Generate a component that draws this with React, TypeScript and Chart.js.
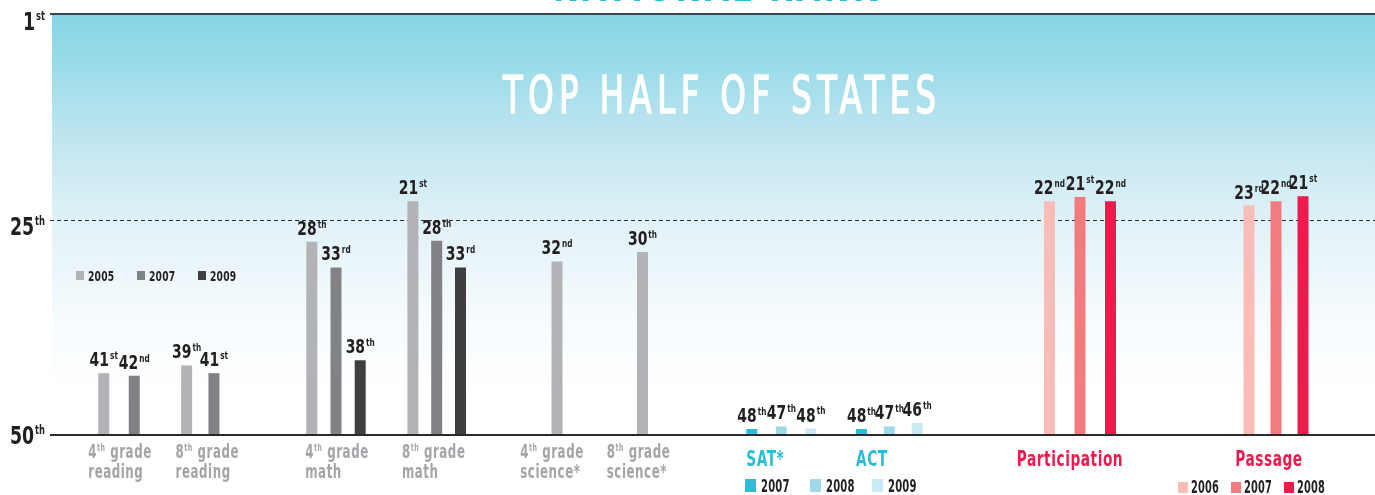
import React, { useEffect, useRef } from 'react';
import { Chart, registerables } from 'chart.js';

Chart.register(...registerables);

// ---------------- DATA ----------------
const subjects = [
  ['4|th| grade', 'reading'],
  ['8|th| grade', 'reading'],
  ['4|th| grade', 'math'],
  ['8|th| grade', 'math'],
  ['4|th| grade', 'science*'],
  ['8|th| grade', 'science*'],
  ['SAT*'],
  ['ACT'],
  ['Participation'],
  ['Passage'],
];

const yTicks = [1, 25, 50];

// NAEP (grey) series: subject indices, stated rank, bar level read on the rank axis
const naep2005Subjects = [0, 1, 2, 3, 4, 5];
const naep2005Rank = [41, 39, 28, 21, 32, 30];
const naep2005Bar = [42.8, 41.9, 27.5, 22.8, 29.8, 28.7];

const naep2007Subjects = [0, 1, 2, 3];
const naep2007Rank = [42, 41, 33, 28];
const naep2007Bar = [43.1, 42.8, 30.5, 27.4];

const naep2009Subjects = [2, 3];
const naep2009Rank = [38, 33];
const naep2009Bar = [41.3, 30.5];

// SAT / ACT (cyan)
const test2007Subjects = [6, 7];
const test2007Rank = [48, 48];
const test2007Bar = [49.3, 49.3];

const test2008Subjects = [6, 7];
const test2008Rank = [47, 47];
const test2008Bar = [49.0, 49.0];

const test2009Subjects = [6, 7];
const test2009Rank = [48, 46];
const test2009Bar = [49.25, 48.6];

// Participation / Passage (red)
const hs2006Subjects = [8, 9];
const hs2006Rank = [22, 23];
const hs2006Bar = [22.8, 23.3];

const hs2007Subjects = [8, 9];
const hs2007Rank = [21, 22];
const hs2007Bar = [22.3, 22.8];

const hs2008Subjects = [8, 9];
const hs2008Rank = [22, 21];
const hs2008Bar = [22.8, 22.2];

// ---------------- LAYOUT / STYLE ----------------
const W = 1375;
const H = 495;
const AREA = { left: 52, top: 14, right: W, bottom: 435 };
const X_MAX = AREA.right - AREA.left;
// group centre along the horizontal layout axis, and spacing between bars in a group
const groupCenter = [67, 148.3, 284, 384.7, 505, 590.5, 729.3, 837.3, 1028, 1224];
const groupSpacing = [30.5, 27.3, 24.2, 23.8, 0, 0, 29.5, 27.8, 30.5, 27];
const labelShift = [1, 7, 1, -3, -5, -4, 0, 0, -10, -7];

const FONT = '"Liberation Sans Narrow", "DejaVu Sans Condensed", "Roboto Condensed", Roboto, sans-serif';
const INK = '#231f20';
const GREY_TXT = '#a3a5a8';
const CYAN = '#2bbcd8';
const RED = '#ec1a4d';

type Series = {
  name: string;
  color: string;
  subjects: number[];
  rank: number[];
  bar: number[];
  legend: number;
};

const series: Series[] = [
  { name: '2005', color: '#b1b3b6', subjects: naep2005Subjects, rank: naep2005Rank, bar: naep2005Bar, legend: 0 },
  { name: '2007', color: '#808285', subjects: naep2007Subjects, rank: naep2007Rank, bar: naep2007Bar, legend: 0 },
  { name: '2009', color: '#3f3f41', subjects: naep2009Subjects, rank: naep2009Rank, bar: naep2009Bar, legend: 0 },
  { name: '2007', color: '#2bbcd8', subjects: test2007Subjects, rank: test2007Rank, bar: test2007Bar, legend: 1 },
  { name: '2008', color: '#a1d9e9', subjects: test2008Subjects, rank: test2008Rank, bar: test2008Bar, legend: 1 },
  { name: '2009', color: '#c9e9f3', subjects: test2009Subjects, rank: test2009Rank, bar: test2009Bar, legend: 1 },
  { name: '2006', color: '#f9bdb8', subjects: hs2006Subjects, rank: hs2006Rank, bar: hs2006Bar, legend: 2 },
  { name: '2007', color: '#f27b7e', subjects: hs2007Subjects, rank: hs2007Rank, bar: hs2007Bar, legend: 2 },
  { name: '2008', color: '#ec1a4d', subjects: hs2008Subjects, rank: hs2008Rank, bar: hs2008Bar, legend: 2 },
];

const legendLayout = [
  { xs: [76, 137, 198], top: 271, sw: 8, sh: 9, font: 14, baseline: 280.5, gap: 4, wf: 1.0 },
  { xs: [745, 810, 872], top: 479, sw: 11, sh: 13, font: 17, baseline: 492, gap: 5, wf: 0.9 },
  { xs: [1178, 1231, 1284], top: 482, sw: 10, sh: 11, font: 17, baseline: 493, gap: 3, wf: 0.88 },
];

function ordinalSuffix(n: number): string {
  const m100 = n % 100;
  if (m100 >= 11 && m100 <= 13) return 'th';
  const m = n % 10;
  if (m === 1) return 'st';
  if (m === 2) return 'nd';
  if (m === 3) return 'rd';
  return 'th';
}

function barsInGroup(g: number): number {
  return series.filter((s) => s.subjects.includes(g)).length;
}

function slotInGroup(s: Series, g: number): number {
  return series.filter((q) => q.subjects.includes(g)).indexOf(s);
}

let condense = 1;
function computeCondense(ctx: CanvasRenderingContext2D) {
  ctx.save();
  ctx.font = `bold 100px ${FONT}`;
  (ctx as any).letterSpacing = '0px';
  const w = ctx.measureText('0000000000').width;
  ctx.restore();
  const target = 10 * 100 * 0.456;
  condense = Math.min(1, target / w);
}

function setFont(ctx: CanvasRenderingContext2D, size: number, weight = 'bold', ls = 0) {
  ctx.font = `${weight} ${size}px ${FONT}`;
  (ctx as any).letterSpacing = `${ls}px`;
}

function measure(ctx: CanvasRenderingContext2D, s: string, size: number, weight = 'bold', ls = 0, wf = 1) {
  setFont(ctx, size, weight, ls);
  return ctx.measureText(s).width * condense * wf;
}

function draw(
  ctx: CanvasRenderingContext2D,
  s: string,
  x: number,
  y: number,
  size: number,
  color: string,
  weight = 'bold',
  ls = 0,
  sx = condense,
  strokeW = 0,
) {
  ctx.save();
  setFont(ctx, size, weight, ls);
  ctx.fillStyle = color;
  ctx.textAlign = 'left';
  ctx.textBaseline = 'alphabetic';
  ctx.translate(x, y);
  ctx.scale(sx, 1);
  ctx.fillText(s, 0, 0);
  if (strokeW > 0) {
    ctx.strokeStyle = color;
    ctx.lineWidth = strokeW;
    ctx.lineJoin = 'round';
    ctx.strokeText(s, 0, 0);
  }
  ctx.restore();
}

function drawOrdinal(
  ctx: CanvasRenderingContext2D,
  n: number,
  x: number,
  baseline: number,
  numSize: number,
  supSize: number,
  align: 'center' | 'right',
  wf = 1,
  color = INK,
) {
  const num = String(n);
  const suf = ordinalSuffix(n);
  const wN = measure(ctx, num, numSize, 'bold', 0, wf);
  const wS = measure(ctx, suf, supSize, 'bold', 0, wf);
  const gap = 1;
  const total = wN + gap + wS;
  const x0 = align === 'center' ? x - total / 2 : x - total;
  draw(ctx, num, x0, baseline, numSize, color, 'bold', 0, condense * wf);
  draw(ctx, suf, x0 + wN + gap, baseline - numSize * 0.74 + supSize * 0.7, supSize, color, 'bold', 0, condense * wf);
}

function drawRich(ctx: CanvasRenderingContext2D, s: string, x: number, baseline: number, size: number, supSize: number, color: string, ls: number, wf: number) {
  const parts = s.split('|');
  let cx = x;
  parts.forEach((p, i) => {
    if (!p) return;
    const isSup = i % 2 === 1;
    const sz = isSup ? supSize : size;
    const y = isSup ? baseline - size * 0.72 + supSize * 0.7 : baseline;
    draw(ctx, p, cx, y, sz, color, 'bold', ls, condense * wf);
    cx += measure(ctx, p, sz, 'bold', ls, wf);
  });
}

function richWidth(ctx: CanvasRenderingContext2D, s: string, size: number, supSize: number, ls: number, wf: number) {
  const parts = s.split('|');
  let w = 0;
  parts.forEach((p, i) => {
    if (!p) return;
    w += measure(ctx, p, i % 2 === 1 ? supSize : size, 'bold', ls, wf);
  });
  return w;
}

const decorPlugin = {
  id: 'decor',
  beforeDatasetsDraw(chart: any) {
    const ctx: CanvasRenderingContext2D = chart.ctx;
    const { left, right, top, bottom } = chart.chartArea;
    const y = chart.scales.y;
    computeCondense(ctx);
    ctx.save();
    const g = ctx.createLinearGradient(0, top, 0, bottom);
    g.addColorStop(0, '#86d5e5');
    g.addColorStop(0.12, '#9bdbe9');
    g.addColorStop(0.3, '#c0e6f0');
    g.addColorStop(0.5, '#e2f2f8');
    g.addColorStop(0.72, '#f6fbfd');
    g.addColorStop(0.9, '#ffffff');
    g.addColorStop(1, '#ffffff');
    ctx.fillStyle = g;
    ctx.fillRect(left, top, right - left, bottom - top);

    // heading inside band
    {
      const text = 'TOP HALF OF STATES';
      const size = 52;
      const ls = 8;
      setFont(ctx, size, 'normal', ls);
      const w = ctx.measureText(text).width - ls;
      const sx = 433 / w;
      draw(ctx, text, 503, 113, size, '#ffffff', 'normal', ls, sx, 1.6);
    }

    // cut-off page title at the very top
    {
      const text = 'NATIONAL RANK';
      const size = 46;
      const ls = 4;
      setFont(ctx, size, 'bold', ls);
      const w = ctx.measureText(text).width;
      const sx = 327 / w;
      draw(ctx, text, 553, 1, size, CYAN, 'bold', ls, sx);
    }

    // dashed midline (25th)
    const y25 = Math.round(y.getPixelForValue(25)) + 0.5;
    ctx.strokeStyle = '#2e2e2e';
    ctx.lineWidth = 1;
    ctx.setLineDash([4, 3]);
    ctx.beginPath();
    ctx.moveTo(left - 2, y25);
    ctx.lineTo(right, y25);
    ctx.stroke();
    ctx.setLineDash([]);
    ctx.restore();
  },
  afterDatasetsDraw(chart: any) {
    const ctx: CanvasRenderingContext2D = chart.ctx;
    const { left, right, top, bottom } = chart.chartArea;
    const xS = chart.scales.x;
    ctx.save();
    ctx.strokeStyle = '#3a4448';
    ctx.lineWidth = 2;
    ctx.beginPath();
    ctx.moveTo(left - 2, top);
    ctx.lineTo(right, top);
    ctx.stroke();
    ctx.strokeStyle = '#2a2a2a';
    ctx.beginPath();
    ctx.moveTo(left - 2, bottom);
    ctx.lineTo(right, bottom);
    ctx.stroke();

    // bar value labels
    chart.data.datasets.forEach((ds: any, di: number) => {
      const meta = chart.getDatasetMeta(di);
      const s = series[di];
      meta.data.forEach((el: any, i: number) => {
        const topY = Math.min(el.y, el.base);
        drawOrdinal(ctx, s.rank[i], el.x, topY - 7, 19, 10, 'center', 1.12);
      });
    });

    // y tick labels
    const yBase = [30, 235, 444];
    yTicks.forEach((t, i) => {
      drawOrdinal(ctx, t, 45, yBase[i], 25, 12, 'right', 1.06);
    });

    // category labels
    subjects.forEach((lines, g) => {
      const cx = xS.getPixelForValue(groupCenter[g]) + labelShift[g];
      if (g < 6) {
        const size = 19;
        const sup = 10;
        const ls = 0.8;
        const wf = 0.95;
        const w = Math.max(...lines.map((l) => richWidth(ctx, l, size, sup, ls, wf)));
        const x0 = cx - w / 2;
        lines.forEach((l, li) => drawRich(ctx, l, x0, 458 + li * 20, size, sup, GREY_TXT, ls, wf));
      } else {
        const size = 22;
        const ls = 0.8;
        const wf = 0.95;
        const color = g < 8 ? CYAN : RED;
        const w = measure(ctx, lines[0], size, 'bold', ls, wf);
        let x0 = cx - w / 2;
        if (g < 8) {
          const n = barsInGroup(g);
          const firstX = xS.getPixelForValue(groupCenter[g] - ((n - 1) / 2) * groupSpacing[g]);
          x0 = firstX - 5.5;
        }
        drawRich(ctx, lines[0], x0, 466, size, 12, color, ls, wf);
      }
    });

    // legends
    legendLayout.forEach((L, li) => {
      const items = series.filter((s) => s.legend === li);
      items.forEach((s, k) => {
        ctx.fillStyle = s.color;
        ctx.fillRect(L.xs[k], L.top, L.sw, L.sh);
        draw(ctx, s.name, L.xs[k] + L.sw + L.gap, L.baseline, L.font, INK, 'bold', 0.3, condense * L.wf);
      });
    });
    ctx.restore();
  },
};

export default function App() {
  const ref = useRef<HTMLCanvasElement | null>(null);
  useEffect(() => {
    document.body.style.margin = '0';
    const canvas = ref.current!;
    const datasets = series.map((s) => ({
      label: s.name,
      backgroundColor: s.color,
      borderWidth: 0,
      data: s.subjects.map((g, i) => {
        const n = barsInGroup(g);
        const k = slotInGroup(s, g);
        return { x: groupCenter[g] + (k - (n - 1) / 2) * groupSpacing[g], y: [50, s.bar[i]] };
      }),
    }));
    const chart = new Chart(canvas, {
      type: 'bar',
      data: { datasets } as any,
      options: {
        animation: false,
        responsive: false,
        devicePixelRatio: 1,
        layout: { padding: { left: AREA.left, top: AREA.top, right: W - AREA.right, bottom: H - AREA.bottom } },
        plugins: { legend: { display: false }, tooltip: { enabled: false } },
        datasets: { bar: { grouped: false, maxBarThickness: 11 } } as any,
        scales: {
          x: { type: 'linear', min: 0, max: X_MAX, offset: false, display: false },
          y: { type: 'linear', reverse: true, min: 1, max: 50, display: false },
        },
      } as any,
      plugins: [decorPlugin],
    });
    return () => chart.destroy();
  }, []);
  return (
    <div style={{ position: 'fixed', left: 0, top: 0, width: W, height: H, background: '#ffffff' }}>
      <canvas ref={ref} width={W} height={H} style={{ display: 'block', width: W, height: H }} />
    </div>
  );
}
